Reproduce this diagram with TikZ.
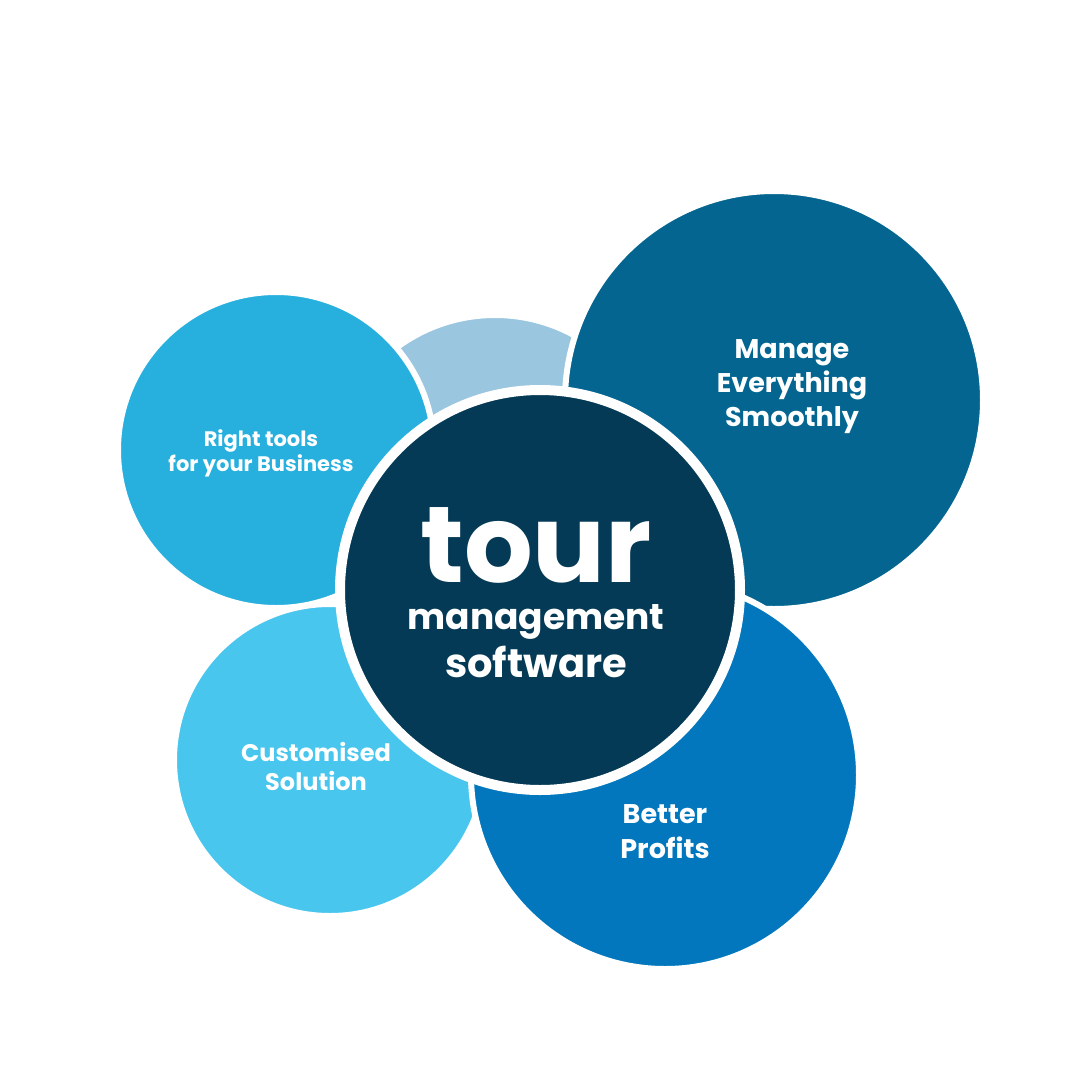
\documentclass[tikz,border=0pt]{standalone}
\usepackage{fontspec}
\setmainfont{Poppins}[UprightFont=* SemiBold,BoldFont=* Bold]
\definecolor{cdark}{HTML}{043A55}
\definecolor{cmanage}{HTML}{046690}
\definecolor{cright}{HTML}{27B0DE}
\definecolor{ccust}{HTML}{49C6EE}
\definecolor{cbetter}{HTML}{0277BD}
\definecolor{clight}{HTML}{9AC6E0}
\tikzset{blob/.style={circle,draw=white,line width=6pt,inner sep=0pt},
lab/.style={text=white,align=center,font=\bfseries}}
\begin{document}
\begin{tikzpicture}[x=1pt,y=-1pt]
\useasboundingbox (0,0) rectangle (1080,1080);
\fill[white] (0,0) rectangle (1080,1080);
\node[blob,fill=clight,minimum size=330pt] (light) at (495,480) {};
\node[blob,fill=cmanage,minimum size=418pt] (manage) at (774,400) {};
\node[blob,fill=cright,minimum size=316pt] (right) at (276,450) {};
\node[blob,fill=ccust,minimum size=312pt] (cust) at (330,760) {};
\node[blob,fill=cbetter,minimum size=388pt] (better) at (665,775) {};
\node[blob,fill=cdark,line width=10pt,minimum size=400pt] (center) at (540,590) {};
\node[lab,font=\bfseries\fontsize{21}{25}\selectfont] (t1) at (261,453) {Right tools\\for your Business};
\node[lab,font=\bfseries\fontsize{27}{34}\selectfont] (t2) at (792,387) {Manage\\Everything\\Smoothly};
\node[lab,font=\bfseries\fontsize{24}{29}\selectfont] (t3) at (316,766) {Customised\\Solution};
\node[lab,font=\bfseries\fontsize{27}{35}\selectfont] (t4) at (665,832) {Better\\Profits};
\node[lab,inner sep=0pt,font=\bfseries\fontsize{108}{108}\selectfont] (tour) at (536,545) {tour};
\node[lab,inner sep=0pt,font=\bfseries\fontsize{36}{36}\selectfont] (mg) at (536,622) {management};
\node[lab,inner sep=0pt,font=\bfseries\fontsize{40}{40}\selectfont] (sw) at (536,662) {software};
\end{tikzpicture}
\end{document}
